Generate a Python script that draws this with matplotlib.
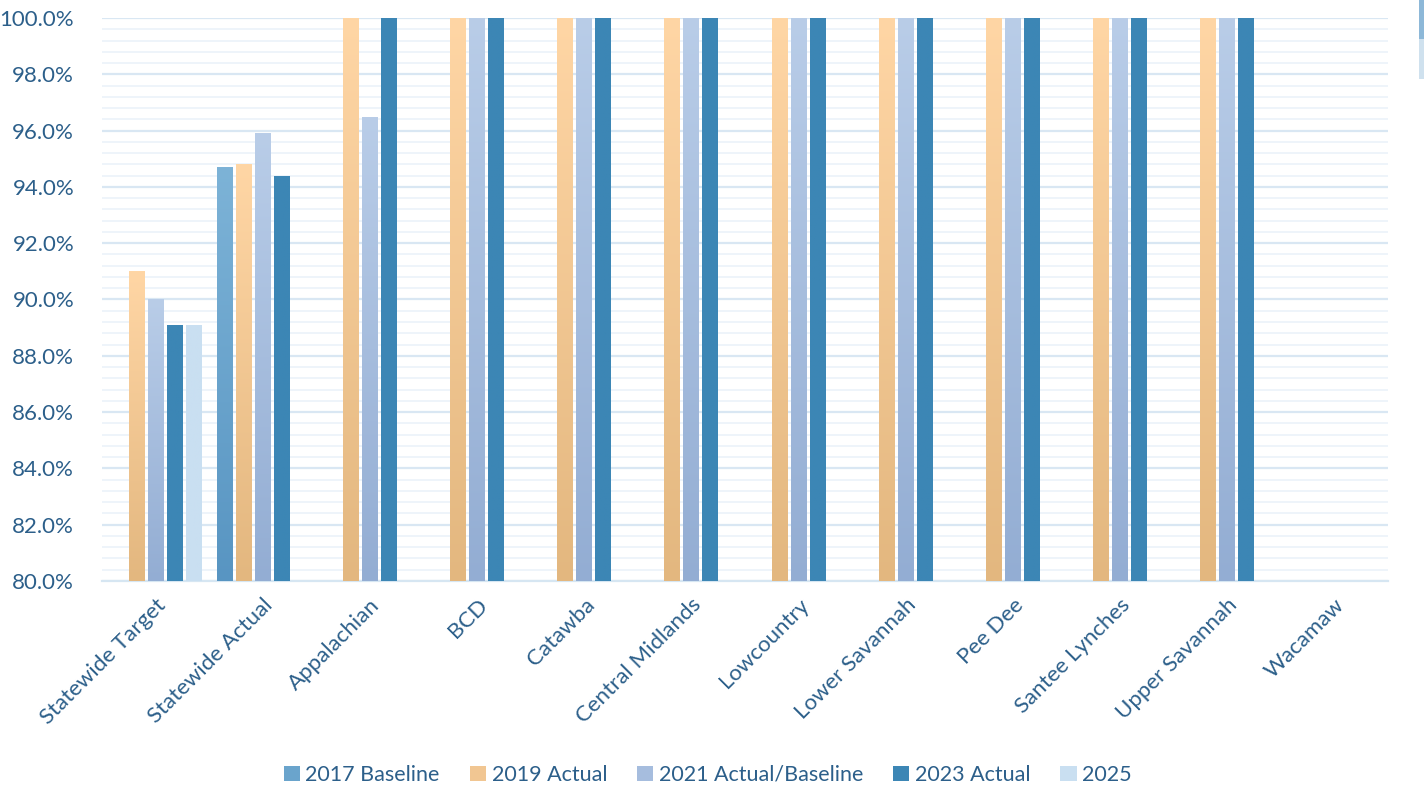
import numpy as np
import matplotlib
matplotlib.use("Agg")
import matplotlib.pyplot as plt
from matplotlib.colors import LinearSegmentedColormap, to_rgb, to_hex
from matplotlib.patches import Patch, Rectangle
from matplotlib.ticker import FuncFormatter, MultipleLocator

CATEGORIES = ["Statewide Target", "Statewide Actual", "Appalachian", "BCD", "Catawba",
              "Central Midlands", "Lowcountry", "Lower Savannah", "Pee Dee",
              "Santee Lynches", "Upper Savannah", "Wacamaw"]
SERIES = ["2017 Baseline", "2019 Actual", "2021 Actual/Baseline", "2023 Actual", "2025"]

# nan = no bar
V2017 = [np.nan, 0.947, np.nan, np.nan, np.nan, np.nan, np.nan, np.nan, np.nan, np.nan, np.nan, np.nan]
V2019 = [0.910, 0.948, 1.0, 1.0, 1.0, 1.0, 1.0, 1.0, 1.0, 1.0, 1.0, np.nan]
V2021 = [0.900, 0.959, 0.965, 1.0, 1.0, 1.0, 1.0, 1.0, 1.0, 1.0, 1.0, np.nan]
V2023 = [0.891, 0.944, 1.0, 1.0, 1.0, 1.0, 1.0, 1.0, 1.0, 1.0, 1.0, np.nan]
V2025 = [0.891, np.nan, np.nan, np.nan, np.nan, np.nan, np.nan, np.nan, np.nan, np.nan, np.nan, np.nan]

# (top colour, bottom colour) per series
GRADIENTS = [
    ("#7DB3D7", "#5895C2"),
    ("#FFD6A5", "#E3B77F"),
    ("#B9CDE8", "#93ADD3"),
    ("#3C86B5", "#3C86B5"),
    ("#C9DFF1", "#C9DFF1"),
]
TEXT_COLOR = "#2C5F8A"

plt.rcParams["font.family"] = ["Lato", "DejaVu Sans"]

fig = plt.figure(figsize=(14.24, 7.9), dpi=100)
ax = fig.add_axes([0.0716, 0.2646, 0.9031, 0.7126])

values = [V2017, V2019, V2021, V2023, V2025]
x = np.arange(len(CATEGORIES))
slot = 0.177
bar_w = 0.148
ymin, ymax = 0.80, 1.0

for i, (vals, (c_top, c_bot)) in enumerate(zip(values, GRADIENTS)):
    offs = (i - 2) * slot
    bars = ax.bar(x + offs, vals, width=bar_w, bottom=0, color="none",
                  edgecolor="none", zorder=3)
    cmap = LinearSegmentedColormap.from_list(f"g{i}", [c_bot, c_top])
    grad = np.linspace(0, 1, 256).reshape(-1, 1)
    for b, v in zip(bars, vals):
        if np.isnan(v):
            continue
        x0 = b.get_x()
        top = min(v, ymax)
        im = ax.imshow(grad, cmap=cmap, aspect="auto", origin="lower",
                       extent=[x0, x0 + b.get_width(), ymin, top], zorder=3)
        im.set_clip_path(b)

ax.set_xlim(-0.5, len(CATEGORIES) - 0.5)
ax.set_ylim(ymin, ymax)

ax.yaxis.set_major_locator(MultipleLocator(0.02))
ax.yaxis.set_minor_locator(MultipleLocator(0.004))
ax.yaxis.set_major_formatter(FuncFormatter(lambda v, _: f"{v * 100:.1f}%"))
ax.grid(axis="y", which="major", color="#D9E7F3", linewidth=1.6, zorder=0)
ax.grid(axis="y", which="minor", color="#EEF4FA", linewidth=1.4, zorder=0)
ax.set_axisbelow(True)

for s in ["top", "right", "left"]:
    ax.spines[s].set_visible(False)
ax.spines["bottom"].set_color("#D6E6F2")
ax.spines["bottom"].set_linewidth(1.6)

ax.tick_params(axis="both", which="both", length=0, colors=TEXT_COLOR, labelsize=16)
ax.tick_params(axis="y", pad=20)
ax.set_xticks(x)
ax.set_xticklabels(CATEGORIES, rotation=45, ha="right", rotation_mode="anchor")
ax.tick_params(axis="x", pad=10)


def mid(c1, c2):
    return to_hex((np.array(to_rgb(c1)) + np.array(to_rgb(c2))) / 2)


handles = [Patch(facecolor=mid(*GRADIENTS[i]), edgecolor="none") for i in range(len(SERIES))]
fig.legend(handles, SERIES, loc="center", bbox_to_anchor=(0.497, 0.019), ncol=5,
           frameon=False, fontsize=15.5, labelcolor=TEXT_COLOR, handlelength=0.75,
           handleheight=0.75, handletextpad=0.25, columnspacing=1.4)

# cut-off element at the right edge
fig.patches.append(Rectangle((0.9965, 0.95), 0.01, 0.05, transform=fig.transFigure,
                             facecolor="#8DB8D8", edgecolor="none"))
fig.patches.append(Rectangle((0.9965, 0.90), 0.01, 0.05, transform=fig.transFigure,
                             facecolor="#CFE1EE", edgecolor="none"))

fig.savefig("out.png", dpi=100)
